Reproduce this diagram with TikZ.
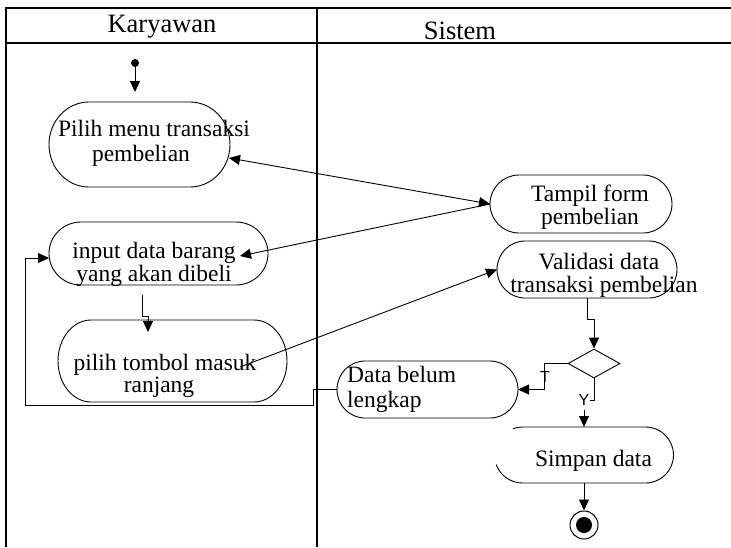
\documentclass[tikz,border=0pt]{standalone}
\usepackage{fontspec}
\setmainfont{Liberation Serif}
\newfontfamily\lblfont{Liberation Sans}
\usetikzlibrary{arrows.meta,shapes.geometric,calc}
\newcommand\pillnode[6]{%
  \node[hidden, minimum width=#4pt, minimum height=#5pt] (#1) at (#2,#3) {};
  \draw[outline] ($(#1.north west)+(#6,0)$) -- ($(#1.north east)+(-#6,0)$)
     arc[start angle=90, end angle=-90, x radius=#6pt, y radius={#5pt/2}]
     -- ($(#1.south west)+(#6,0)$)
     arc[start angle=270, end angle=90, x radius=#6pt, y radius={#5pt/2}] -- cycle;}
\begin{document}
\begin{tikzpicture}[x=1pt,y=-1pt,
  >={Triangle[length=11pt,width=10pt]},
  conn/.style={line width=0.9pt},
  outline/.style={line width=0.9pt},
  frame/.style={line width=1.2pt},
  hidden/.style={rectangle, draw=none, inner sep=0pt, outer sep=0pt},
  txt/.style={font=\fontsize{23.5}{25}\selectfont, inner sep=0pt, anchor=base},
  txtl/.style={font=\fontsize{23.5}{25}\selectfont, inner sep=0pt, anchor=base west},
  hdr/.style={font=\fontsize{26.5}{28}\selectfont, inner sep=0pt, anchor=base},
  lbl/.style={font=\lblfont\fontsize{16}{16}\selectfont, inner sep=0pt}]
\useasboundingbox (0,0) rectangle (731,547);

% swimlane frame
\draw[frame] (6,547) -- (6,8) -- (731,8);
\draw[frame] (6,43) -- (731,43);
\draw[frame] (317,8) -- (317,547);
\node[hdr] (hk) at (162,32) {Karyawan};
\node[hdr] (hs) at (460,39) {Sistem};

% activity shapes
\pillnode{pilih}{139.5}{144.5}{181}{85}{40}
\pillnode{tampil}{581}{204}{182}{58}{29}
\pillnode{input}{158.5}{253.5}{219}{63}{32}
\pillnode{tombol}{172.5}{361}{229}{82}{33}
\pillnode{validasi}{587}{269.5}{180}{57}{28}
\pillnode{data}{427.5}{389.5}{181}{57}{28}

% Simpan data (top-left of outline open)
\node[hidden, minimum width=179pt, minimum height=56pt] (simpan) at (584,455) {};
\draw[outline] ($(simpan.west)+(28,0)$) ++(110:28pt)
   arc[start angle=110, end angle=90, radius=28pt]
   -- ($(simpan.north east)+(-28,0)$)
   arc[start angle=90, end angle=-90, radius=28pt]
   -- ($(simpan.south west)+(28,0)$)
   arc[start angle=270, end angle=200, radius=28pt];

% decision, start, end
\node[diamond, draw, outline, minimum width=52pt, minimum height=29pt, inner sep=0pt] (dec) at (594,363.5) {};
\node[circle, fill=black, minimum size=8pt, inner sep=0pt] (start) at (135,63) {};
\coordinate (startend) at (135,92);
\node[circle, draw, line width=1pt, minimum size=28pt, inner sep=0pt] (final) at (584,525) {};
\node[circle, fill=black, minimum size=16pt, inner sep=0pt] (finaldot) at (final.center) {};

% labels on guards
\node[lbl] (tlab) at (545,377) {T};
\node[lbl] (ylab) at (584,400) {Y};

% connectors
\draw[conn,->] (start) -- (startend);
\draw[conn,<->] ($(pilih.east)+(-1,13.5)$) -- (tampil.west);
\coordinate (inputtip) at ($(input.center)+(81.5,2.5)$);
\draw[conn,->] (tampil.west) -- (inputtip);
\draw[conn,->] ($(input.south)+(-16.5,10)$) -- ++(0,21) -| ($(tombol.north)+(-24.5,12)$);
\draw[conn,->] ($(tombol.center)+(67.5,6)$) -- (validasi.west);
\draw[conn,->] (validasi.south) -- ++(0,21) -| (dec.north);
\draw[conn,->] (dec.west) -- ++(-23,0) |- (data.east);
\draw[conn] (dec.south) |- (ylab.east);
\draw[conn,->] ($(ylab.south)+(0,4)$) -- (simpan.north);
\draw[conn,->] (simpan.south) -- (final.north);
\coordinate (loopA) at (25,405);
\draw[conn,->] (data.west) -- ++(-24,0) |- (loopA) |- ($(input.west)+(0,4.5)$);

% texts
\node[txt] (p1) at (154,136) {Pilih menu transaksi};
\node[txt] (p2) at (141,161) {pembelian};
\node[txt, align=center, font=\fontsize{23.5}{20}\selectfont] (tf) at (590,224) {Tampil form\\pembelian};
\node[txt, align=center, font=\fontsize{23.5}{19}\selectfont] (iw) at (154,281) {input data barang\\yang akan dibeli};
\node[txt] (tb1) at (165,370) {pilih tombol masuk};
\node[txt] (tb2) at (159,392) {ranjang};
\node[txt] (v1) at (599,269) {Validasi data};
\node[txt] (v2) at (604,292) {transaksi pembelian};
\node[txtl] (d1) at (347,382) {Data belum};
\node[txtl] (d2) at (347,407) {lengkap};
\node[txt] (s1) at (593.5,466) {Simpan data};
\end{tikzpicture}
\end{document}
